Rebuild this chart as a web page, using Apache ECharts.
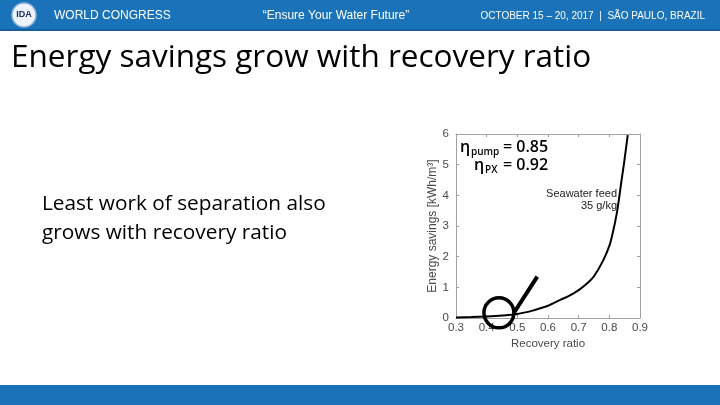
<!DOCTYPE html>
<html>
<head>
<meta charset="utf-8">
<script src="https://cdn.jsdelivr.net/npm/echarts@6/dist/echarts.min.js"></script>
<style>html,body{margin:0;padding:0;background:#fff}#c{width:720px;height:405px}</style>
</head>
<body>
<div id="c"></div>
<script>
// Data
var recovery = [0.30, 0.35, 0.40, 0.45, 0.50, 0.55, 0.575, 0.60, 0.64, 0.67, 0.70, 0.73, 0.75, 0.78, 0.80, 0.81, 0.825, 0.84, 0.85, 0.86];
var savings  = [0.02, 0.03, 0.05, 0.08, 0.13, 0.24, 0.32, 0.40, 0.59, 0.73, 0.91, 1.15, 1.36, 1.88, 2.35, 2.72, 3.45, 4.50, 5.20, 5.96];
var xTicks = [0.3, 0.4, 0.5, 0.6, 0.7, 0.8, 0.9];
var yTicks = [0, 1, 2, 3, 4, 5, 6];
var circleMark = [0.44, 0.17];
var arrowLine = [[0.565, 1.35], [0.489, 0.17]];

var curve = recovery.map(function (x, i) { return [x, savings[i]]; });
var axisGray = '#a0a0a0';
var labelGray = '#4a4a4a';
var chart = echarts.init(document.getElementById('c'));
var baseX = {
  type: 'value', min: xTicks[0], max: xTicks[xTicks.length - 1], interval: 0.1,
  splitLine: { show: false },
  axisLine: { show: true, onZero: false, lineStyle: { color: axisGray, width: 1 } },
  axisTick: { show: true, inside: true, length: 3, lineStyle: { color: axisGray } }
};
var baseY = {
  type: 'value', min: yTicks[0], max: yTicks[yTicks.length - 1], interval: 1,
  splitLine: { show: false },
  axisLine: { show: true, onZero: false, lineStyle: { color: axisGray, width: 1 } },
  axisTick: { show: true, inside: true, length: 3, lineStyle: { color: axisGray } }
};
chart.setOption({
  animation: false,
  backgroundColor: '#fff',
  grid: { left: 456, right: 80, top: 134, bottom: 87 },
  xAxis: [
    Object.assign({}, baseX, {
      position: 'bottom',
      name: 'Recovery ratio', nameLocation: 'middle', nameGap: 20,
      nameTextStyle: { color: labelGray, fontFamily: 'Liberation Sans', fontSize: 11.5 },
      axisLabel: { color: labelGray, fontFamily: 'Liberation Sans', fontSize: 11.5, margin: 4,
        formatter: function (v) { return v.toFixed(1); } }
    }),
    Object.assign({}, baseX, { position: 'top', axisLabel: { show: false } })
  ],
  yAxis: [
    Object.assign({}, baseY, {
      position: 'left',
      name: 'Energy savings [kWh/m³]', nameLocation: 'middle', nameGap: 4,
      nameTextStyle: { color: labelGray, fontFamily: 'Liberation Sans', fontSize: 12 },
      axisLabel: { color: labelGray, fontFamily: 'Liberation Sans', fontSize: 11.5, margin: 7 }
    }),
    Object.assign({}, baseY, { position: 'right', axisLabel: { show: false } })
  ],
  series: [
    {
      type: 'line', data: curve, smooth: 0.3, showSymbol: false, symbol: 'none',
      lineStyle: { color: '#000', width: 2 }, z: 3
    },
    {
      type: 'line', data: arrowLine, showSymbol: false, symbol: 'none',
      lineStyle: { color: '#000', width: 4 }, z: 4
    },
    {
      type: 'scatter', data: [circleMark], symbol: 'circle', symbolSize: 30,
      itemStyle: { color: 'rgba(255,255,255,0)', borderColor: '#000', borderWidth: 3.5, opacity: 1 }, z: 4
    }
  ],
  graphic: [
    { type: 'rect', shape: { x: 0, y: 0, width: 720, height: 31 }, style: { fill: '#1a72b8' }, z: 1 },
    { type: 'rect', shape: { x: 0, y: 29, width: 720, height: 2 }, style: { fill: '#15609c' }, z: 1 },
    { type: 'circle', shape: { cx: 24, cy: 15, r: 12 }, style: { fill: '#eef3f9', stroke: '#8fb4da', lineWidth: 1.5 }, z: 2 },
    { type: 'text', style: { x: 24, y: 15, text: 'IDA', fill: '#1b2f66', font: 'bold 9px "Liberation Sans"', textAlign: 'center', textVerticalAlign: 'middle' }, z: 3 },
    { type: 'text', style: { x: 54, y: 16, text: 'WORLD CONGRESS', fill: '#fff', font: '12px "Liberation Sans"', textVerticalAlign: 'middle' }, z: 3 },
    { type: 'text', style: { x: 336, y: 16, text: '“Ensure Your Water Future”', fill: '#fff', font: '12px "Liberation Sans"', textAlign: 'center', textVerticalAlign: 'middle' }, z: 3 },
    { type: 'text', style: { x: 705, y: 16, text: 'OCTOBER 15 – 20, 2017  |  SÃO PAULO, BRAZIL', fill: '#fff', font: '10px "Liberation Sans"', textAlign: 'right', textVerticalAlign: 'middle' }, z: 3 },
    { type: 'rect', shape: { x: 0, y: 385, width: 720, height: 20 }, style: { fill: '#1a72b8' }, z: 1 },
    { type: 'text', style: { x: 11, y: 58, text: 'Energy savings grow with recovery ratio', fill: '#000', font: '31.5px "Open Sans"', textVerticalAlign: 'middle' }, z: 3 },
    { type: 'text', style: { x: 42, y: 204, text: 'Least work of separation also', fill: '#000', font: '20.8px "Open Sans"', textVerticalAlign: 'middle' }, z: 3 },
    { type: 'text', style: { x: 42, y: 233, text: 'grows with recovery ratio', fill: '#000', font: '20.8px "Open Sans"', textVerticalAlign: 'middle' }, z: 3 },
    { type: 'text', style: { x: 617, y: 194, text: 'Seawater feed', fill: '#222', font: '11px "Liberation Sans"', textAlign: 'right', textVerticalAlign: 'middle' }, z: 3 },
    { type: 'text', style: { x: 617, y: 206, text: '35 g/kg', fill: '#222', font: '11px "Liberation Sans"', textAlign: 'right', textVerticalAlign: 'middle' }, z: 3 },
    { type: 'text', style: { x: 460, y: 147, text: 'η', fill: '#000', font: '600 16px "Open Sans"', textVerticalAlign: 'middle' }, z: 3 },
    { type: 'text', style: { x: 471, y: 152, text: 'pump', fill: '#000', font: '600 10px "Open Sans"', textVerticalAlign: 'middle' }, z: 3 },
    { type: 'text', style: { x: 503, y: 147, text: '= 0.85', fill: '#000', font: '600 16px "Open Sans"', textVerticalAlign: 'middle' }, z: 3 },
    { type: 'text', style: { x: 474, y: 165, text: 'η', fill: '#000', font: '600 16px "Open Sans"', textVerticalAlign: 'middle' }, z: 3 },
    { type: 'text', style: { x: 485, y: 170, text: 'PX', fill: '#000', font: '600 10px "Open Sans"', textVerticalAlign: 'middle' }, z: 3 },
    { type: 'text', style: { x: 503, y: 165, text: '= 0.92', fill: '#000', font: '600 16px "Open Sans"', textVerticalAlign: 'middle' }, z: 3 }
  ]
});
</script>
</body>
</html>
